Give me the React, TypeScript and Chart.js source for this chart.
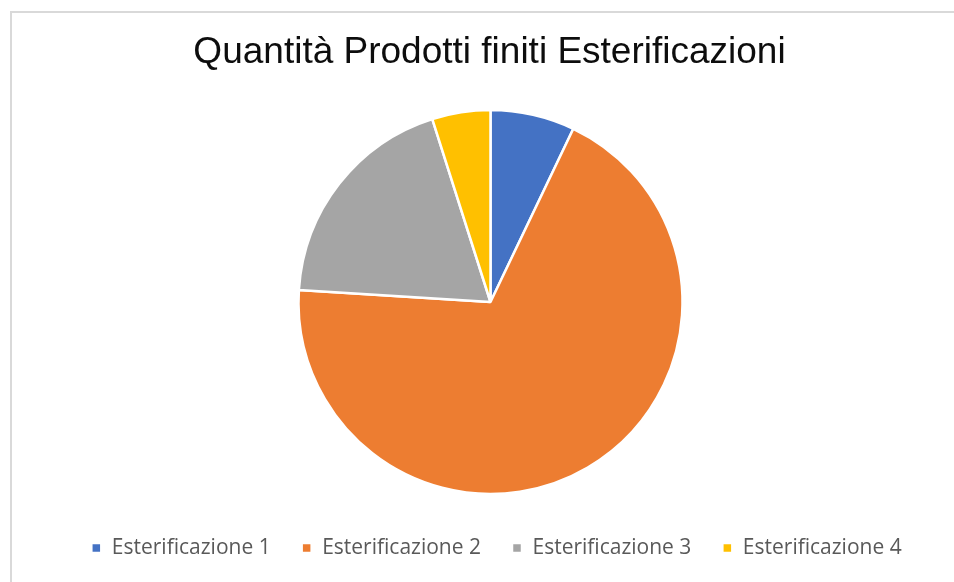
import React, { useEffect, useRef } from "react";
import { Chart, registerables } from "chart.js";

Chart.register(...registerables);

const TITLE = "Quantità Prodotti finiti Esterificazioni";
const categories = ["Esterificazione 1", "Esterificazione 2", "Esterificazione 3", "Esterificazione 4"];
const values = [7.1, 68.9, 19.1, 4.9];
const colors = ["#4472C4", "#ED7D31", "#A5A5A5", "#FFC000"];

const W = 954;
const H = 582;
const CX = 490.5;
const CY = 302;
const R = 192;
const LEGEND_FS = 21;
const LEGEND_MID_Y = 548;
const LEGEND_SHIFT_X = 19.5;
const TITLE_SHIFT_X = 12.5;

const framePlugin = {
  id: "frame",
  beforeDraw(chart: any) {
    const ctx = chart.ctx;
    ctx.save();
    ctx.fillStyle = "#ffffff";
    ctx.fillRect(0, 0, chart.width, chart.height);
    ctx.strokeStyle = "#d9d9d9";
    ctx.lineWidth = 2;
    ctx.strokeRect(11, 12, 2000, 2000);
    ctx.restore();
  },
};

const placePlugin = {
  id: "place",
  afterLayout(chart: any) {
    const lg = chart.legend;
    if (lg) {
      const pad = lg.options.labels.padding;
      const cur = lg.top + pad + LEGEND_FS / 2;
      const d = LEGEND_MID_Y - cur;
      lg.top += d;
      lg.bottom += d;
      lg.left += LEGEND_SHIFT_X;
      lg.right += LEGEND_SHIFT_X;
    }
    const tb = chart.titleBlock;
    if (tb) {
      tb.left += TITLE_SHIFT_X;
      tb.right += TITLE_SHIFT_X;
    }
    const half = 200;
    chart.chartArea = {
      left: CX - half,
      right: CX + half,
      top: CY - half,
      bottom: CY + half,
      width: half * 2,
      height: half * 2,
    };
  },
};

export default function App() {
  const ref = useRef<HTMLCanvasElement | null>(null);
  useEffect(() => {
    if (!ref.current) return;
    const chart = new Chart(ref.current, {
      type: "pie",
      data: {
        labels: categories,
        datasets: [
          {
            data: values,
            backgroundColor: colors,
            borderColor: "#ffffff",
            borderWidth: 2.5,
            hoverOffset: 0,
          },
        ],
      },
      options: {
        animation: false,
        responsive: false,
        radius: R,
        layout: { padding: 0 },
        plugins: {
          tooltip: { enabled: false },
          title: {
            display: true,
            text: TITLE,
            color: "#0d0d0d",
            font: { family: "'Liberation Sans', Arial, sans-serif", size: 37, weight: "normal", lineHeight: 1.2 },
            padding: { top: 31, bottom: 10 },
          },
          legend: {
            position: "bottom",
            labels: {
              boxWidth: 10,
              boxHeight: 10,
              padding: 31,
              color: "#595959",
              font: { family: "'Open Sans', sans-serif", size: LEGEND_FS },
            },
          },
        },
      } as any,
      plugins: [framePlugin, placePlugin],
    });
    return () => chart.destroy();
  }, []);
  return (
    <div style={{ position: "fixed", left: 0, top: 0, width: W, height: H, background: "#fff" }}>
      <canvas ref={ref} width={W} height={H} style={{ width: W, height: H, display: "block" }} />
    </div>
  );
}
